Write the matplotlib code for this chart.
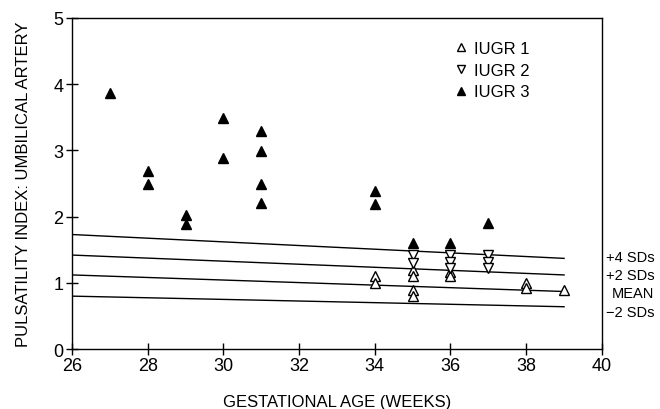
import matplotlib
matplotlib.use("Agg")
import matplotlib.pyplot as plt

plt.rcParams['font.family'] = ['Liberation Sans', 'DejaVu Sans']

# IUGR 1 (open triangles up)
iugr1_x = [34, 34, 35, 35, 35, 35, 36, 36, 38, 38, 39]
iugr1_y = [1.10, 1.00, 1.20, 1.10, 0.90, 0.80, 1.17, 1.10, 1.00, 0.92, 0.90]
# IUGR 2 (open triangles down)
iugr2_x = [35, 35, 36, 36, 36, 37, 37, 37]
iugr2_y = [1.42, 1.30, 1.42, 1.32, 1.22, 1.42, 1.32, 1.22]
# IUGR 3 (filled triangles up)
iugr3_x = [27, 28, 28, 29, 29, 30, 30, 31, 31, 31, 31, 34, 34, 35, 36, 37]
iugr3_y = [3.87, 2.69, 2.49, 2.03, 1.89, 3.49, 2.89, 3.29, 2.99, 2.50, 2.20,
           2.39, 2.19, 1.60, 1.60, 1.90]

# reference lines, start (26 wk) and end (39 wk)
ref_x = [26, 39]
ref_names = ['+4 SDs', '+2 SDs', 'MEAN', '\u22122 SDs']
ref_start = [1.73, 1.42, 1.12, 0.80]
ref_end = [1.37, 1.12, 0.87, 0.64]

fig = plt.figure(figsize=(6.6, 4.1), dpi=100)
ax = fig.add_axes([0.109, 0.146, 0.803, 0.808])

for s, e in zip(ref_start, ref_end):
    ax.plot(ref_x, [s, e], color='black', lw=1.0)

ax.plot(iugr1_x, iugr1_y, '^', ms=7.5, mfc='white', mec='black', mew=1.0,
        ls='none', label='IUGR 1')
ax.plot(iugr2_x, iugr2_y, 'v', ms=7.5, mfc='white', mec='black', mew=1.0,
        ls='none', label='IUGR 2')
ax.plot(iugr3_x, iugr3_y, '^', ms=7.5, mfc='black', mec='black',
        ls='none', label='IUGR 3')

ax.set_xlim(26, 40)
ax.set_ylim(0, 5)
ax.set_xticks(range(26, 41, 2))
ax.set_yticks(range(0, 6))
ax.tick_params(direction='inout', length=8, width=1, labelsize=13, pad=2)
for sp in ax.spines.values():
    sp.set_linewidth(1.0)

ax.set_xlabel('GESTATIONAL AGE (WEEKS)', fontsize=12, labelpad=14)
ax.set_ylabel('PULSATILITY INDEX: UMBILICAL ARTERY', fontsize=12, labelpad=16)

leg = ax.legend(loc='upper left', bbox_to_anchor=(0.69, 0.975), frameon=False,
                fontsize=12, handletextpad=0.3, labelspacing=0.4,
                handlelength=1.0, markerscale=0.85)

label_y = [1.39, 1.12, 0.84, 0.56]
for name, y in zip(ref_names, label_y):
    ax.text(40.1 if name != 'MEAN' else 40.25, y, name, fontsize=10.5,
            va='center', ha='left', clip_on=False)

fig.savefig('out.png', dpi=100)
